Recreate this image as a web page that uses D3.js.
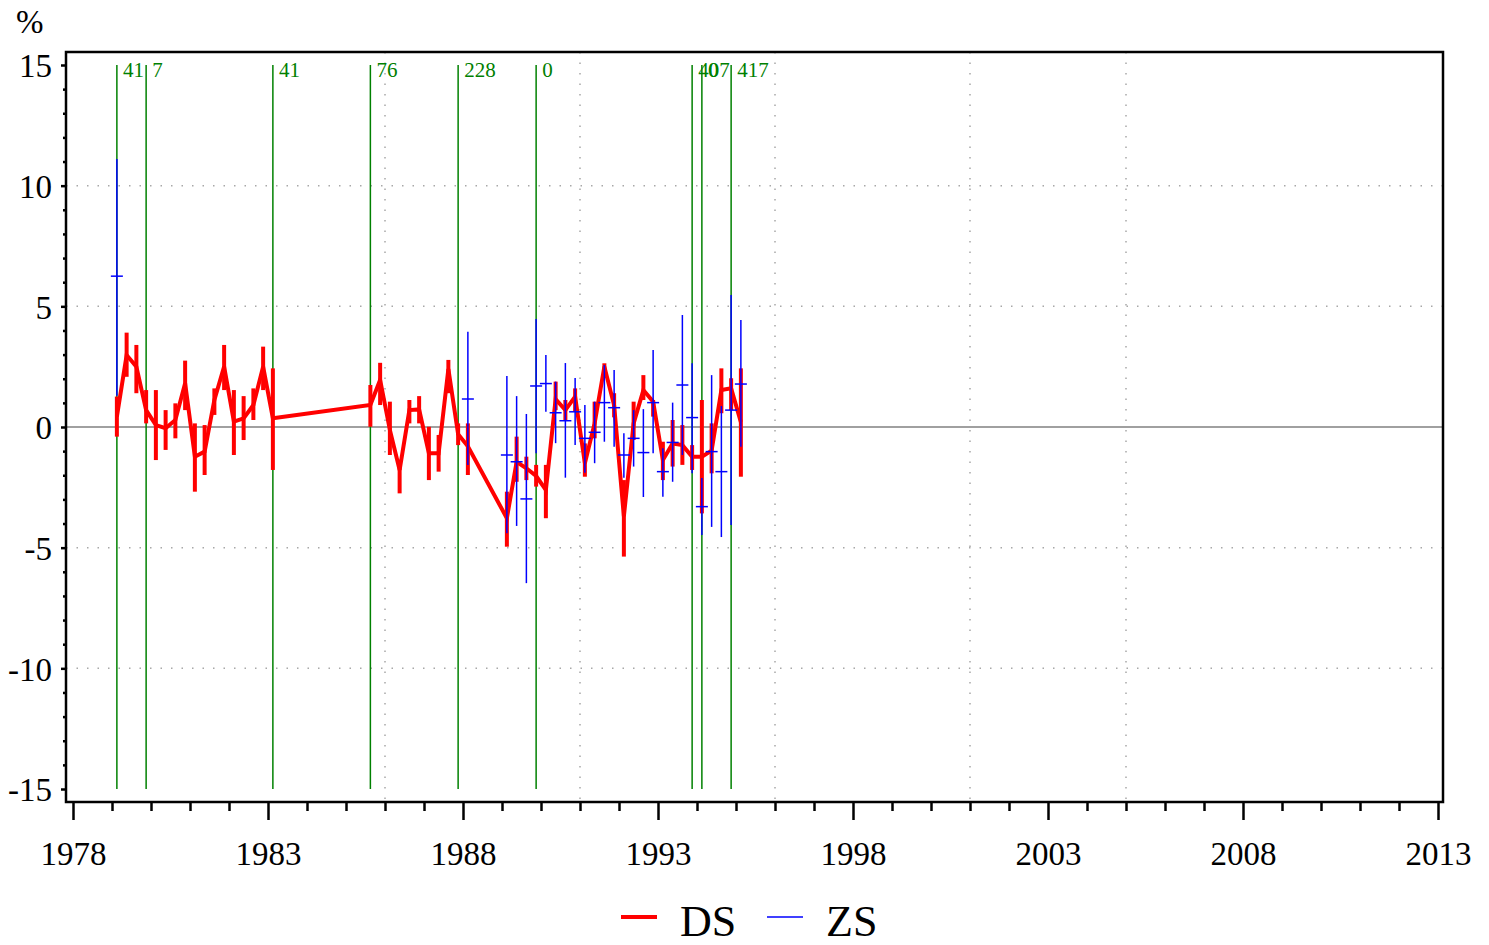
<!DOCTYPE html>
<html>
<head>
<meta charset="utf-8">
<script src="https://cdn.jsdelivr.net/npm/d3@7/dist/d3.min.js"></script>
<style>
  html, body { margin: 0; padding: 0; background: #fff; }
  svg { display: block; }
  text { font-family: "Liberation Serif", "Times New Roman", serif; }
</style>
</head>
<body>
<svg id="chart" width="1489" height="945"></svg>
<script>
// ---------------- DATA ----------------
const dsYears = [1979.125, 1979.375, 1979.625, 1979.875, 1980.125, 1980.375, 1980.625, 1980.875,
  1981.125, 1981.375, 1981.625, 1981.875, 1982.125, 1982.375, 1982.625, 1982.875, 1983.125,
  1985.625, 1985.875, 1986.125, 1986.375, 1986.625, 1986.875, 1987.125, 1987.375, 1987.625, 1987.875, 1988.125,
  1989.125, 1989.375, 1989.625, 1989.875, 1990.125, 1990.375, 1990.625, 1990.875, 1991.125, 1991.375,
  1991.625, 1991.875, 1992.125, 1992.375, 1992.625, 1992.875, 1993.125, 1993.375, 1993.625, 1993.875,
  1994.125, 1994.375, 1994.625, 1994.875, 1995.125];
const dsValues = [0.43, 2.98, 2.5, 0.7, 0.08, -0.05, 0.29, 1.81, -1.23, -1.02, 1.12, 2.5, 0.22, 0.36, 0.91, 2.5, 0.36,
  0.91, 1.95, -0.12, -1.78, 0.7, 0.73, -1.09, -1.09, 2.4, -0.3, -0.8,
  -3.78, -1.44, -1.71, -2.03, -2.61, 1.15, 0.7, 1.26, -1.5, 0.15, 2.5, 0.9, -3.7, 0.15, 1.53, 1.05,
  -1.37, -0.68, -0.75, -1.23, -1.23, -0.98, 1.53, 1.6, 0.2];
const dsHigh = [1.26, 3.91, 3.4, 1.53, 1.53, 0.7, 0.98, 2.75, 0.15, 0.08, 1.6, 3.4, 1.53, 1.28, 1.6, 3.33, 2.43,
  1.74, 2.66, 1.05, -1.37, 1.12, 1.28, 0.01, -0.33, 2.78, 0.15, 0.15,
  -2.68, -0.4, -1.23, -1.57, -1.57, 1.88, 1.12, 1.6, -0.68, 1.05, 2.64, 1.4, -2.2, 1.05, 2.15, 1.12,
  -0.61, 0.29, 0.08, -0.75, 1.12, 0.15, 2.43, 2.02, 2.43];
const dsLow = [-0.4, 2.08, 1.4, 0.15, -1.37, -0.95, -0.47, 0.7, -2.68, -1.99, 0.5, 1.53, -1.16, -0.54, 0.29, 1.53, -1.78,
  0.01, 0.91, -1.16, -2.75, 0.15, 0.15, -2.2, -1.85, 1.4, -0.75, -1.99,
  -4.96, -2.27, -2.2, -2.47, -3.78, 0.7, 0.29, 0.63, -2.06, -0.47, 2.08, 0.4, -5.37, -0.54, 1.12, 0.43,
  -2.2, -1.64, -1.57, -1.78, -3.58, -1.92, 0.57, 0.7, -2.06];

const zsYears = [1979.125, 1988.125, 1989.125, 1989.375, 1989.625, 1989.875, 1990.125, 1990.375, 1990.625,
  1990.875, 1991.125, 1991.375, 1991.625, 1991.875, 1992.125, 1992.375, 1992.625, 1992.875, 1993.125,
  1993.375, 1993.625, 1993.875, 1994.125, 1994.375, 1994.625, 1994.875, 1995.125];
const zsValues = [6.25, 1.16, -1.16, -1.44, -2.98, 1.7, 1.8, 0.59, 0.26, 0.63, -0.47, -0.22, 1.01, 0.8,
  -1.16, -0.47, -1.06, 1.01, -1.85, -0.64, 1.74, 0.39, -3.3, -1.02, -1.85, 0.7, 1.78];
const zsHigh = [11.1, 3.95, 2.11, 1.28, 0.54, 4.47, 2.98, 1.88, 2.65, 2.03, 0.91, 1.05, 2.57, 2.36,
  -0.26, 0.7, 0.74, 3.19, -0.88, 1.01, 4.64, 2.64, -2.11, 2.15, 0.87, 5.47, 4.43];
const zsLow = [1.3, -1.57, -4.4, -4.1, -6.47, -1.09, 0.63, -0.67, -2.1, -0.75, -1.9, -1.5, -0.61, -0.82,
  -2.1, -1.64, -2.9, -1.09, -2.89, -2.27, -1.16, -1.92, -4.48, -4.14, -4.56, -4.06, -0.82];

const eventYears = [1979.125, 1979.875, 1983.125, 1985.625, 1987.875, 1989.875, 1993.875, 1994.125, 1994.875];
const eventLabels = ["41", "7", "41", "76", "228", "0", "407", "0", "417"];

const xMajorTicks = [1978, 1983, 1988, 1993, 1998, 2003, 2008, 2013];
const xMinorTicks = [1979, 1980, 1981, 1982, 1984, 1985, 1986, 1987, 1989, 1990, 1991, 1992, 1994, 1995, 1996, 1997,
  1999, 2000, 2001, 2002, 2004, 2005, 2006, 2007, 2009, 2010, 2011, 2012];
const yMajorTicks = [-15, -10, -5, 0, 5, 10, 15];
const yMinorTicks = [-14, -13, -12, -11, -9, -8, -7, -6, -4, -3, -2, -1, 1, 2, 3, 4, 6, 7, 8, 9, 11, 12, 13, 14];
const xGridYears = [1986, 1991, 1996, 2001, 2005];
const yGridValues = [-10, -5, 5, 10];
const legendItems = ["DS", "ZS"];
const yUnit = "%";

// ---------------- DRAW ----------------
const svg = d3.select("#chart");
const frame = { left: 66, top: 52, right: 1443, bottom: 802 };
const x = d3.scaleLinear().domain([1978, 2013]).range([73, 1438]);
const y = d3.scaleLinear().domain([-15, 15]).range([789, 65]);
const FONT = "Liberation Serif";

// grid
const grid = svg.append("g");
grid.selectAll("line.hg").data(yGridValues).join("line")
  .attr("x1", frame.left).attr("x2", frame.right)
  .attr("y1", d => y(d)).attr("y2", d => y(d))
  .attr("stroke", "#a8a8a8").attr("stroke-width", 1.5).attr("stroke-dasharray", "1.5,9");
grid.selectAll("line.vg").data(xGridYears).join("line")
  .attr("x1", d => x(d)).attr("x2", d => x(d))
  .attr("y1", frame.top).attr("y2", frame.bottom)
  .attr("stroke", "#a8a8a8").attr("stroke-width", 1.5).attr("stroke-dasharray", "1.5,9");

// zero line
svg.append("line")
  .attr("x1", frame.left).attr("x2", frame.right)
  .attr("y1", y(0)).attr("y2", y(0))
  .attr("stroke", "#808080").attr("stroke-width", 1.5);

// events
const ev = svg.append("g");
ev.selectAll("line").data(eventYears).join("line")
  .attr("x1", d => x(d)).attr("x2", d => x(d))
  .attr("y1", y(15)).attr("y2", y(-15))
  .attr("stroke", "#008000").attr("stroke-width", 1.5);
ev.selectAll("text").data(eventYears).join("text")
  .attr("x", d => x(d) + 6).attr("y", 77)
  .attr("fill", "#008000").attr("font-size", 21).attr("font-family", FONT)
  .text((d, i) => eventLabels[i]);

// DS series
const ds = dsYears.map((t, i) => ({ t, v: dsValues[i], hi: dsHigh[i], lo: dsLow[i] }));
svg.append("path").datum(ds)
  .attr("fill", "none").attr("stroke", "#ff0000").attr("stroke-width", 4)
  .attr("stroke-linejoin", "miter")
  .attr("d", d3.line().x(d => x(d.t)).y(d => y(d.v)));
svg.append("g").selectAll("line").data(ds).join("line")
  .attr("x1", d => x(d.t)).attr("x2", d => x(d.t))
  .attr("y1", d => y(d.hi)).attr("y2", d => y(d.lo))
  .attr("stroke", "#ff0000").attr("stroke-width", 4);

// ZS series
const zs = zsYears.map((t, i) => ({ t, v: zsValues[i], hi: zsHigh[i], lo: zsLow[i] }));
const zg = svg.append("g");
zg.selectAll("line.bar").data(zs).join("line").attr("class", "bar")
  .attr("x1", d => x(d.t)).attr("x2", d => x(d.t))
  .attr("y1", d => y(d.hi)).attr("y2", d => y(d.lo))
  .attr("stroke", "#0000ff").attr("stroke-width", 1.5);
zg.selectAll("line.tick").data(zs).join("line").attr("class", "tick")
  .attr("x1", d => x(d.t) - 6).attr("x2", d => x(d.t) + 6)
  .attr("y1", d => y(d.v)).attr("y2", d => y(d.v))
  .attr("stroke", "#0000ff").attr("stroke-width", 1.5);

// frame
svg.append("rect")
  .attr("x", frame.left).attr("y", frame.top)
  .attr("width", frame.right - frame.left).attr("height", frame.bottom - frame.top)
  .attr("fill", "none").attr("stroke", "#000").attr("stroke-width", 2.5);

// x axis
const xMaj = svg.append("g").attr("transform", `translate(0,${frame.bottom})`)
  .call(d3.axisBottom(x).tickValues(xMajorTicks).tickSize(18).tickFormat(d3.format("d")));
xMaj.select(".domain").remove();
xMaj.selectAll("line").attr("stroke-width", 2.5);
xMaj.selectAll("text").attr("y", 63).attr("dy", 0)
  .attr("font-size", 33).attr("font-family", FONT).attr("fill", "#000");
const xMin = svg.append("g").attr("transform", `translate(0,${frame.bottom})`)
  .call(d3.axisBottom(x).tickValues(xMinorTicks).tickSize(9).tickFormat(""));
xMin.select(".domain").remove();
xMin.selectAll("line").attr("stroke-width", 2.5);

// y axis
const yMaj = svg.append("g").attr("transform", `translate(${frame.left},0)`)
  .call(d3.axisLeft(y).tickValues(yMajorTicks).tickSize(5).tickPadding(9).tickFormat(d => String(d)));
yMaj.select(".domain").remove();
yMaj.selectAll("line").attr("stroke-width", 2.5);
yMaj.selectAll("text").attr("dy", "0.36em")
  .attr("font-size", 33).attr("font-family", FONT).attr("fill", "#000");
const yMin = svg.append("g").attr("transform", `translate(${frame.left},0)`)
  .call(d3.axisLeft(y).tickValues(yMinorTicks).tickSize(3).tickFormat(""));
yMin.select(".domain").remove();
yMin.selectAll("line").attr("stroke-width", 2.5);

// unit label
svg.append("text").attr("x", 16).attr("y", 33)
  .attr("font-size", 33).attr("font-family", FONT).text(yUnit);

// legend
const leg = svg.append("g");
const legendX = [621, 767];
const legendStyle = [{ c: "#ff0000", w: 4 }, { c: "#0000ff", w: 1.5 }];
legendItems.forEach((name, i) => {
  leg.append("line").attr("x1", legendX[i]).attr("x2", legendX[i] + 36)
    .attr("y1", 917).attr("y2", 917)
    .attr("stroke", legendStyle[i].c).attr("stroke-width", legendStyle[i].w);
  leg.append("text").attr("x", legendX[i] + 59).attr("y", 936)
    .attr("font-size", 44).attr("font-family", FONT).text(name);
});
</script>
</body>
</html>
